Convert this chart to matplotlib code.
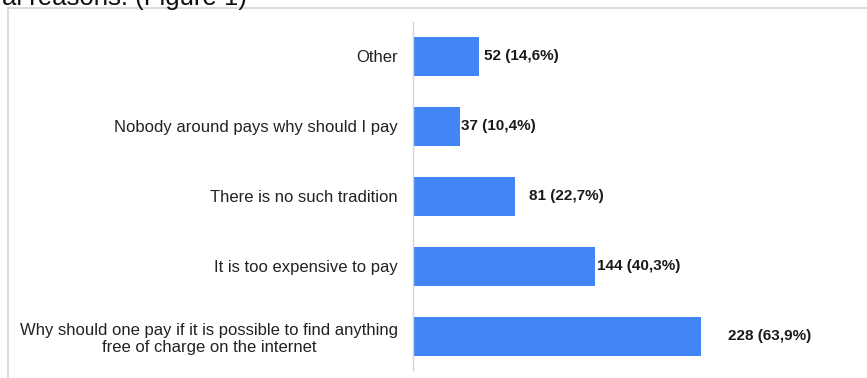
import matplotlib
matplotlib.use("Agg")
import matplotlib.pyplot as plt
from matplotlib.lines import Line2D

plt.rcParams["font.family"] = ["Liberation Sans", "DejaVu Sans"]

# Survey answers, top to bottom
categories = [
    "Other",
    "Nobody around pays why should I pay",
    "There is no such tradition",
    "It is too expensive to pay",
    "Why should one pay if it is possible to find anything\nfree of charge on the internet",
]
counts = [52, 37, 81, 144, 228]
shares = ["14,6%", "10,4%", "22,7%", "40,3%", "63,9%"]

# horizontal nudge of each value label from its bar end (pixels)
label_offsets = [5, 1.5, 13.5, 2, 27]

W, H = 867, 378
fig = plt.figure(figsize=(W / 100, H / 100), dpi=100)
fig.patch.set_facecolor("white")

left_px, right_px = 412.7, 856.0
top_px, bottom_px = 22.0, 370.0
ax = fig.add_axes([left_px / W, 1 - bottom_px / H,
                   (right_px - left_px) / W, (bottom_px - top_px) / H])

ypos = list(range(len(categories)))
ax.barh(ypos, counts, height=0.557, color="#4285F4", edgecolor="none")

ax.set_xlim(0, 350)
ax.set_ylim(4.48, -0.49)

ax.set_yticks(ypos)
ax.set_yticklabels(categories, fontsize=12, color="#222222")
for lab in ax.get_yticklabels():
    lab.set_multialignment("center")
ax.tick_params(axis="y", length=0, pad=10.5)
ax.set_xticks([])

for s in ("top", "right", "bottom"):
    ax.spines[s].set_visible(False)
ax.spines["left"].set_color("#d4d4d4")
ax.spines["left"].set_linewidth(1.0)

for y, c, p, off in zip(ypos, counts, shares, label_offsets):
    ax.annotate(f"{c} ({p})", xy=(c, y), xytext=(off, 0),
                textcoords="offset pixels", ha="left", va="center",
                fontsize=11, fontweight="bold", color="#1a1a1a")

# surrounding frame (top and left edges)
frame_c = "#d6d6d6"
fig.add_artist(Line2D([7.5 / W, 1.0], [1 - 7.5 / H, 1 - 7.5 / H],
                      transform=fig.transFigure, color=frame_c, lw=1.2))
fig.add_artist(Line2D([7.5 / W, 7.5 / W], [0.0, 1 - 7.5 / H],
                      transform=fig.transFigure, color=frame_c, lw=1.2))

# caption line running above the frame
fig.text(247 / W, 1 - 5.5 / H, "al reasons: (Figure 1)", ha="right",
         va="baseline", fontsize=18.5, color="#111111")

fig.savefig("out.png", dpi=100, facecolor="white")
